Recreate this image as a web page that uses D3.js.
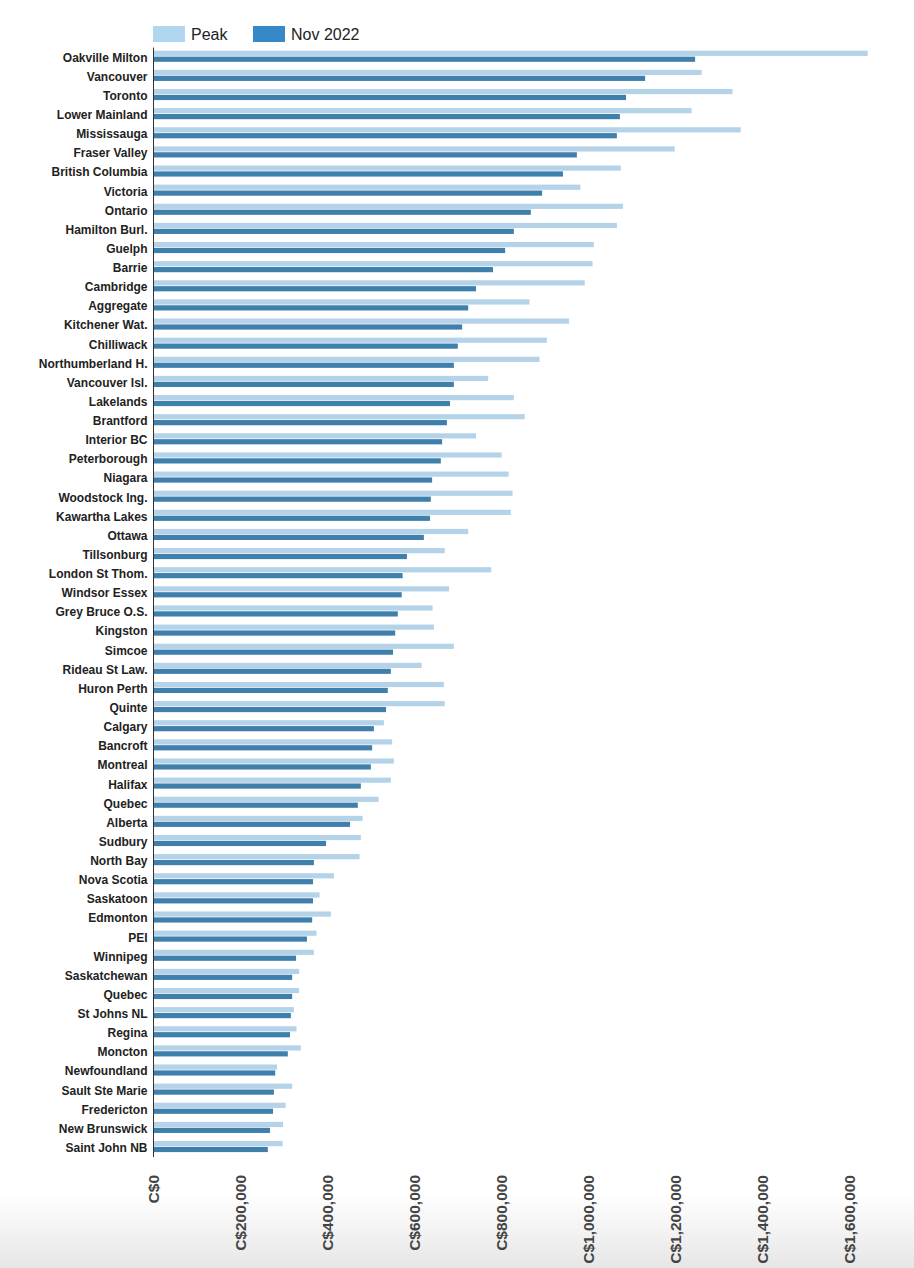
<!DOCTYPE html>
<html>
<head>
<meta charset="utf-8">
<script src="https://cdn.jsdelivr.net/npm/d3@7"></script>
<style>
  body { margin: 0; background: #fff; }
  svg { display: block; font-family: "Liberation Sans", Arial, sans-serif; }
</style>
</head>
<body>
<div id="chart"></div>
<script>
// Chart data
var categories = [
  "Oakville Milton", "Vancouver", "Toronto", "Lower Mainland", "Mississauga",
  "Fraser Valley", "British Columbia", "Victoria", "Ontario", "Hamilton Burl.",
  "Guelph", "Barrie", "Cambridge", "Aggregate", "Kitchener Wat.",
  "Chilliwack", "Northumberland H.", "Vancouver Isl.", "Lakelands", "Brantford",
  "Interior BC", "Peterborough", "Niagara", "Woodstock Ing.", "Kawartha Lakes",
  "Ottawa", "Tillsonburg", "London St Thom.", "Windsor Essex", "Grey Bruce O.S.",
  "Kingston", "Simcoe", "Rideau St Law.", "Huron Perth", "Quinte",
  "Calgary", "Bancroft", "Montreal", "Halifax", "Quebec",
  "Alberta", "Sudbury", "North Bay", "Nova Scotia", "Saskatoon",
  "Edmonton", "PEI", "Winnipeg", "Saskatchewan", "Quebec ",
  "St Johns NL", "Regina", "Moncton", "Newfoundland", "Sault Ste Marie",
  "Fredericton", "New Brunswick", "Saint John NB"
];

var peakValues = [
  1643000, 1261000, 1332000, 1238000, 1351000,
  1199000, 1075000, 982000, 1080000, 1066000,
  1013000, 1010000, 992000, 865000, 956000,
  905000, 888000, 770000, 829000, 854000,
  742000, 801000, 817000, 826000, 822000,
  724000, 670000, 777000, 680000, 642000,
  645000, 691000, 617000, 668000, 670000,
  530000, 549000, 553000, 546000, 518000,
  481000, 477000, 474000, 415000, 382000,
  408000, 375000, 369000, 335000, 335000,
  323000, 329000, 339000, 284000, 319000,
  304000, 298000, 297000
];

var nov2022Values = [
  1246000, 1131000, 1087000, 1073000, 1066000,
  974000, 942000, 894000, 868000, 829000,
  809000, 781000, 742000, 724000, 710000,
  700000, 691000, 691000, 682000, 675000,
  664000, 661000, 641000, 638000, 636000,
  622000, 583000, 573000, 571000, 562000,
  556000, 551000, 546000, 539000, 535000,
  507000, 503000, 500000, 477000, 470000,
  452000, 397000, 369000, 367000, 367000,
  365000, 353000, 328000, 319000, 319000,
  316000, 314000, 309000, 280000, 277000,
  275000, 268000, 263000
];

var seriesNames = ["Peak", "Nov 2022"];
var xTicks = [0, 200000, 400000, 600000, 800000, 1000000, 1200000, 1400000, 1600000];

var barColors = ["#b4d3e8", "#3e7fac"];
var legendColors = ["#b1d6ef", "#3689c6"];

var width = 914;
var height = 1268;

var rows = categories.map(function(c, i) {
  return { name: c, values: [peakValues[i], nov2022Values[i]] };
});

var svg = d3.select("#chart").append("svg")
  .attr("width", width)
  .attr("height", height);

// grey fade along the bottom of the picture
var grad = svg.append("defs").append("linearGradient")
  .attr("id", "fade")
  .attr("x1", 0).attr("y1", 0).attr("x2", 0).attr("y2", 1);
grad.append("stop").attr("offset", "0%").attr("stop-color", "#ffffff");
grad.append("stop").attr("offset", "100%").attr("stop-color", "#e6e6e6");
svg.append("rect")
  .attr("x", 0).attr("y", 1195)
  .attr("width", width).attr("height", height - 1195)
  .attr("fill", "url(#fade)");

/*
 * SCALES
 * =============================== */

var x = d3.scaleLinear()
  .domain([0, 1600000])
  .range([153.5, 849]);

var y = d3.scaleBand()
  .domain(categories)
  .range([46.7, 1156.1])
  .paddingInner(0.42)
  .paddingOuter(0.21);

var ySub = d3.scaleBand()
  .domain([0, 1])
  .range([0, y.bandwidth()])
  .paddingInner(0.12);

/*
 * BARS
 * =============================== */

var groups = svg.append("g").selectAll("g")
  .data(rows)
  .enter().append("g")
  .attr("transform", function(d) { return "translate(0," + y(d.name) + ")"; });

groups.selectAll("rect")
  .data(function(d) { return d.values; })
  .enter().append("rect")
  .attr("x", x(0))
  .attr("y", function(d, i) { return ySub(i); })
  .attr("width", function(d) { return x(d) - x(0); })
  .attr("height", ySub.bandwidth())
  .attr("fill", function(d, i) { return barColors[i]; });

/*
 * AXES
 * =============================== */

var yAxis = svg.append("g")
  .attr("transform", "translate(" + x(0) + ",0)")
  .call(d3.axisLeft(y).tickSize(0).tickPadding(6).tickFormat(function(d) { return d.trim(); }));
yAxis.select(".domain").attr("stroke", "#333").attr("d", "M0,47.5V1157");
yAxis.selectAll("text")
  .attr("fill", "#222")
  .attr("dy", "0.45em")
  .style("font-size", "12px")
  .style("font-weight", "bold")
  .style("font-family", "'Liberation Sans', Arial, sans-serif");

var fmt = d3.format(",");
var xAxis = svg.append("g")
  .attr("transform", "translate(0,1175)")
  .call(d3.axisBottom(x).tickValues(xTicks).tickSize(0)
    .tickFormat(function(d) { return "C$" + fmt(d); }));
xAxis.select(".domain").remove();
xAxis.selectAll("text")
  .attr("fill", "#444")
  .attr("text-anchor", "end")
  .attr("x", 0)
  .attr("y", 0)
  .attr("dy", "0.35em")
  .attr("transform", "rotate(-90)")
  .style("font-size", "15.5px")
  .style("font-weight", "bold")
  .style("font-family", "'Liberation Sans', Arial, sans-serif");

/*
 * LEGEND
 * =============================== */

var legendX = [153, 253];
var legend = svg.append("g").selectAll("g")
  .data(seriesNames)
  .enter().append("g")
  .attr("transform", function(d, i) { return "translate(" + legendX[i] + ",26)"; });

legend.append("rect")
  .attr("width", 32)
  .attr("height", 16)
  .attr("fill", function(d, i) { return legendColors[i]; });

legend.append("text")
  .attr("x", 38)
  .attr("y", 8)
  .attr("dy", "0.35em")
  .attr("fill", "#222")
  .style("font-size", "16px")
  .text(function(d) { return d; });
</script>
</body>
</html>
